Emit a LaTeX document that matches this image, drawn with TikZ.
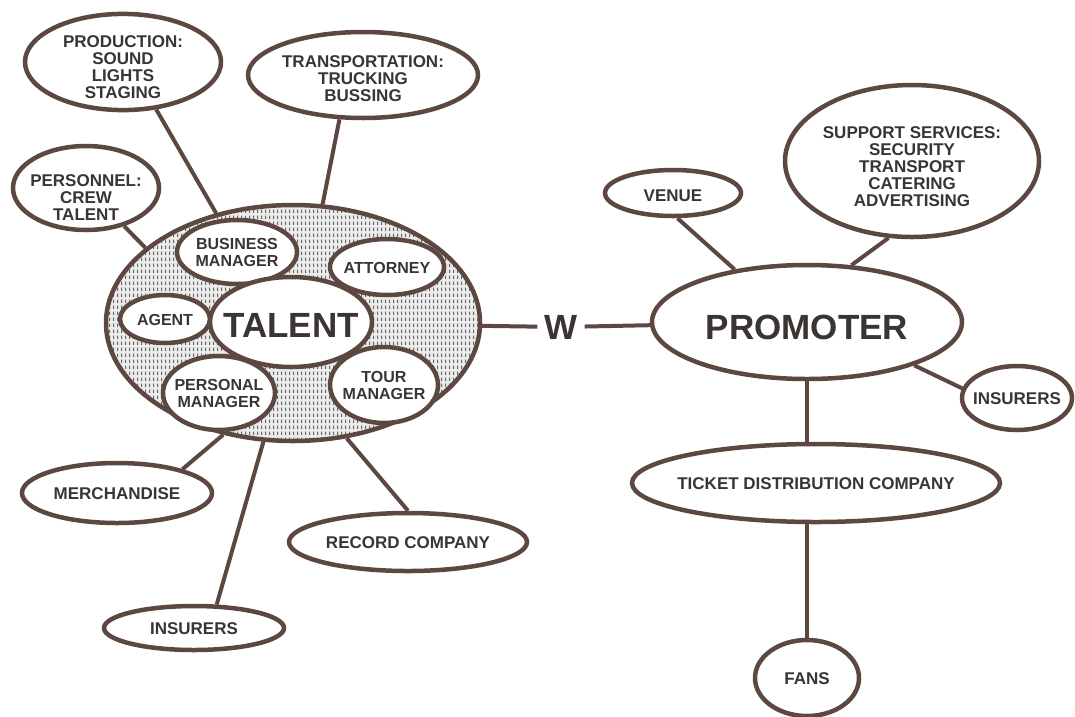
\documentclass[tikz,border=0pt]{standalone}
\usepackage{fontspec}
\setmainfont{Liberation Sans}
\usepackage{tikz}
\usetikzlibrary{shapes.geometric}
\usetikzlibrary{patterns}
\definecolor{rim}{RGB}{92,72,64}
\definecolor{ink}{RGB}{58,52,50}
% short vertical streaks for the talent's crowd
\pgfdeclarepatternformonly{streaks}{\pgfpointorigin}{\pgfpoint{3.5pt}{6pt}}{\pgfpoint{3.5pt}{6pt}}{%
  \pgfpathrectangle{\pgfpointorigin}{\pgfpoint{1.4pt}{4pt}}\pgfusepath{fill}}
% centred lines, dropped a little inside the bubble
\newcommand{\lbl}[2][3]{\makebox[0pt]{\raisebox{-#1pt}[\height][\depth]{\begin{tabular}{@{}c@{}}#2\end{tabular}}}}
\tikzset{%
  bubble/.style 2 args={
    ellipse,
    draw=rim,
    line width=4.5pt,
    fill=white,
    inner sep=0pt,
    minimum width=#1pt,
    minimum height=#2pt,
    text=ink,
    font=\bfseries\fontsize{17}{17}\selectfont
  },
  inner/.style={font=\bfseries\fontsize{16}{17}\selectfont},
  big/.style={font=\bfseries\fontsize{35}{36}\selectfont},
  link/.style={draw=rim, line width=4pt},
}

\begin{document}
\begin{tikzpicture}[x=1pt,y=-1pt]
          \useasboundingbox (0,0) rectangle (1075,716);
          % talent and its people
          \node[bubble={374}{236}, preaction={fill=gray!16}, pattern=streaks, pattern color=black!60] (team) at (293,323) {};
          \node[bubble={120}{64}, inner] (busmgr) at (237,252) {\lbl{BUSINESS\\MANAGER}};
          \node[bubble={114}{56}, inner] (attorney) at (387,267) {\lbl{ATTORNEY}};
          \node[bubble={90}{48}, inner] (agent) at (165,319) {\lbl{AGENT}};
          \node[bubble={112}{74}, inner] (persmgr) at (219,393) {\lbl{PERSONAL\\MANAGER}};
          \node[bubble={108}{76}, inner] (tourmgr) at (384,385) {\lbl{TOUR\\MANAGER}};
          \node[bubble={162}{90}, big] (talent) at (291,322) {\lbl[8]{TALENT}};
          % outside the talent
          \node[bubble={196}{96}] (prod) at (123,62) {\lbl[8]{PRODUCTION:\\SOUND\\LIGHTS\\STAGING}};
          \node[bubble={230}{86}] (trans) at (363,75) {\lbl[6]{TRANSPORTATION:\\TRUCKING\\BUSSING}};
          \node[bubble={146}{84}] (crew) at (86,188) {\lbl[12]{PERSONNEL:\\CREW\\TALENT}};
          \node[bubble={190}{60}] (merch) at (117,493) {\lbl{MERCHANDISE}};
          \node[bubble={238}{58}] (record) at (408,542) {\lbl{RECORD COMPANY}};
          \node[bubble={180}{44}] (insleft) at (194,628) {\lbl{INSURERS}};
          % promoter side
          \node[bubble={310}{114}, big] (promoter) at (807,322) {\lbl[10]{PROMOTER}};
          \node[bubble={136}{46}] (venue) at (673,193) {\lbl[5]{VENUE}};
          \node[bubble={254}{152}] (support) at (912,161) {\lbl[8]{SUPPORT SERVICES:\\SECURITY\\TRANSPORT\\CATERING\\ADVERTISING}};
          \node[bubble={110}{64}] (insright) at (1017,398) {\lbl{INSURERS}};
          \node[bubble={368}{78}] (ticket) at (816,483) {\lbl{TICKET DISTRIBUTION COMPANY}};
          \node[bubble={104}{76}] (fans) at (807,678) {\lbl{FANS}};
          \node[text=ink, big, inner xsep=7pt] (w) at (561,327) {W};

          \foreach \a/\b in {prod.-55/team.125, trans.-118/team.76, crew.-45/team.153,
                             team.-122/merch.20, team.-104/insleft.46, team.-65/record.90,
                             venue.-80/promoter.144, support.-107/promoter.52, promoter.-22/insright.170} {
              \draw[link] (\a) -- (\b);
          }
          \draw[link] (team) -- (w);
          \draw[link] (w) -- (promoter);
          \draw[link] (promoter.south) -- (promoter.south |- ticket.north);
          \draw[link] (fans.north |- ticket.south) -- (fans.north);
          \end{tikzpicture}
\end{document}
